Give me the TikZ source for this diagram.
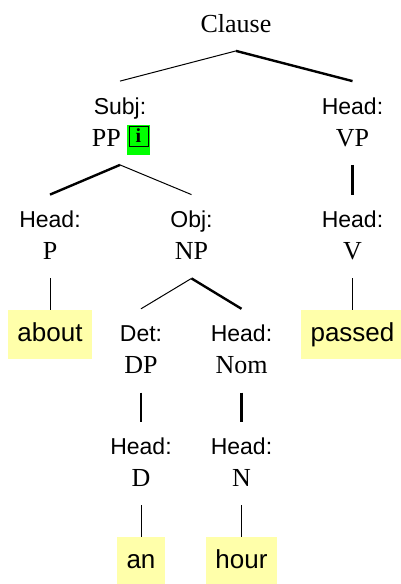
\documentclass[tikz,border=0pt]{standalone}
\usepackage{fontspec}
\setmainfont{Liberation Serif}
\setsansfont{Liberation Sans}
\usepackage{tikz}
\definecolor{leafyellow}{RGB}{255,255,170}
\definecolor{infogreen}{RGB}{0,255,0}

\begin{document}
\begin{tikzpicture}[x=0.5pt, y=-0.5pt,
        word/.style={anchor=base, text height=9pt, text depth=2pt, inner ysep=7.25pt, inner xsep=0pt},
        func/.style={word, font=\sffamily\fontsize{11.5}{13}\selectfont},
        cat/.style={word, font=\fontsize{13}{15}\selectfont},
        leaf/.style={anchor=base, fill=leafyellow, font=\sffamily\fontsize{13}{15}\selectfont, text height=9.5pt, text depth=2.5pt, inner ysep=6.3pt, inner xsep=4.85pt},
        nonhead/.style={line width=0.5pt},
        headline/.style={line width=1.2pt}]
        \useasboundingbox (0,0) rectangle (401,584);
        % clause level
        \node[cat] (clause) at (236,32) {Clause};
        \node[func] (subj) at (120,114) {Subj:};
        \node[cat] (pp) at (106.4,146) {PP};
        \node[fill=infogreen, minimum width=11.5pt, minimum height=15pt, inner sep=0pt] (info) at (138.5,140) {};
        \node[draw, line width=0.4pt, minimum width=9.5pt, minimum height=10pt, inner sep=0pt, font=\bfseries\fontsize{10}{10}\selectfont] (icon) at (138.5,136) {i};
        \node[func] (headVP) at (352.5,114) {Head:};
        \node[cat] (vp) at (352.5,146) {VP};
        % phrase level
        \node[func] (headP) at (50,227.5) {Head:};
        \node[cat] (p) at (50,259.5) {P};
        \node[func] (obj) at (191.5,227.5) {Obj:};
        \node[cat] (np) at (191.5,259.5) {NP};
        \node[func] (headV) at (352.5,227.5) {Head:};
        \node[cat] (v) at (352.5,259.5) {V};
        \node[leaf] (about) at (50,341.7) {about};
        \node[leaf] (passed) at (352.5,341.7) {passed};
        % inside the NP
        \node[func] (det) at (141,341.7) {Det:};
        \node[cat] (dp) at (141,373.7) {DP};
        \node[func] (headNom) at (241.5,341.7) {Head:};
        \node[cat] (nom) at (241.5,373.7) {Nom};
        \node[func] (headD) at (141,454.5) {Head:};
        \node[cat] (d) at (141,486.5) {D};
        \node[func] (headN) at (241.5,454.5) {Head:};
        \node[cat] (n) at (241.5,486.5) {N};
        \node[leaf] (an) at (141,568.7) {an};
        \node[leaf] (hour) at (241.5,568.7) {hour};
        % branches
        \draw[nonhead] (clause.south) -- (subj.north);
        \draw[headline] (clause.south) -- (headVP.north);
        \draw[headline] (pp.south -| subj.south) -- (headP.north);
        \draw[nonhead] (pp.south -| subj.south) -- (obj.north);
        \draw[headline] (vp.south) -- (headV.north);
        \draw[nonhead] (p.south) -- (about.north);
        \draw[nonhead] (v.south) -- (passed.north);
        \draw[nonhead] (np.south) -- (det.north);
        \draw[headline] (np.south) -- (headNom.north);
        \draw[headline] (dp.south) -- (headD.north);
        \draw[headline] (nom.south) -- (headN.north);
        \draw[nonhead] (d.south) -- (an.north);
        \draw[nonhead] (n.south) -- (hour.north);
    \end{tikzpicture}
\end{document}
